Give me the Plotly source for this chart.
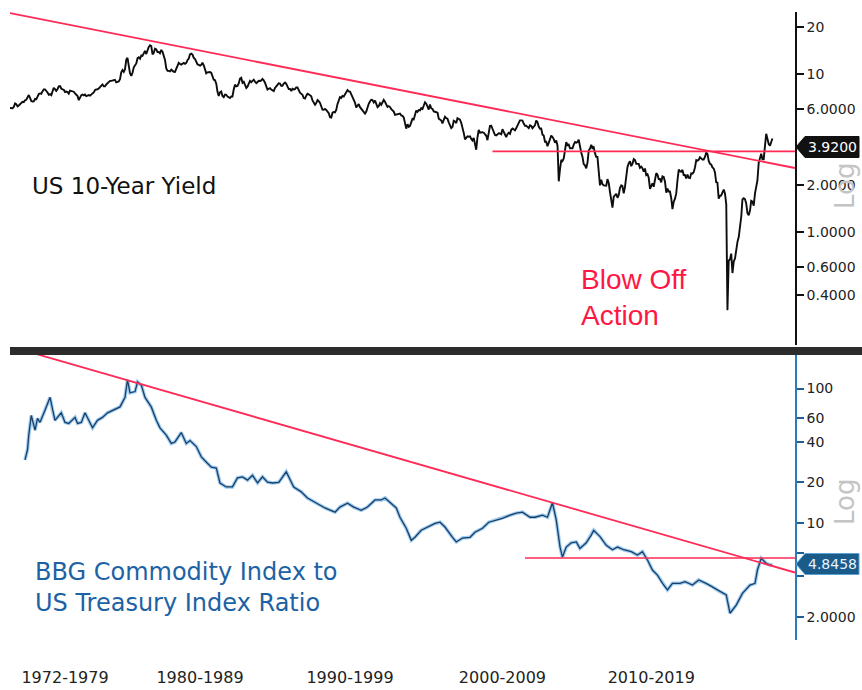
import pandas as pd
import plotly.graph_objects as go

W, H = 862, 690

# ---------------- data ----------------
# US 10-year Treasury yield, monthly, May 1972 - Mar 2023 (percent)
yield_pct = [
    6.13, 6.11, 6.11, 6.21, 6.55, 6.48, 6.28, 6.36,                          # 1972 (May-Dec)
    6.46, 6.64, 6.71, 6.67, 6.85, 6.90, 7.13, 7.40, 7.09, 6.79, 6.73, 6.74,  # 1973
    6.99, 6.96, 7.21, 7.51, 7.58, 7.54, 7.81, 8.04, 8.04, 7.90, 7.68, 7.43,  # 1974
    7.50, 7.39, 7.73, 8.23, 8.06, 7.86, 8.06, 8.40, 8.43, 8.14, 8.05, 8.00,  # 1975
    7.74, 7.79, 7.73, 7.56, 7.90, 7.86, 7.83, 7.77, 7.59, 7.41, 7.29, 6.87,  # 1976
    7.21, 7.39, 7.46, 7.37, 7.46, 7.28, 7.33, 7.40, 7.34, 7.52, 7.58, 7.69,  # 1977
    7.96, 8.03, 8.04, 8.15, 8.35, 8.46, 8.64, 8.41, 8.42, 8.64, 8.81, 9.01,  # 1978
    9.10, 9.10, 9.12, 9.18, 9.25, 8.91, 8.95, 9.03, 9.33, 10.30, 10.65, 10.39,  # 1979
    10.80, 12.41, 12.75, 11.47, 10.18, 9.78, 10.25, 11.10, 11.51, 11.75, 12.68, 12.84,  # 1980
    12.57, 13.19, 13.12, 13.68, 14.10, 13.47, 14.28, 14.94, 15.32, 15.15, 13.39, 13.72,  # 1981
    14.59, 14.43, 13.86, 13.87, 13.62, 14.30, 13.95, 13.06, 12.34, 10.91, 10.55, 10.54,  # 1982
    10.46, 10.72, 10.51, 10.40, 10.38, 10.85, 11.38, 11.85, 11.65, 11.54, 11.69, 11.83,  # 1983
    11.67, 11.84, 12.32, 12.63, 13.41, 13.56, 13.36, 12.72, 12.52, 12.16, 11.57, 11.50,  # 1984
    11.38, 11.51, 11.86, 11.43, 10.85, 10.16, 10.31, 10.33, 10.37, 10.24, 9.78, 9.26,  # 1985
    9.19, 8.70, 7.78, 7.30, 7.71, 7.80, 7.30, 7.17, 7.45, 7.43, 7.25, 7.11,  # 1986
    7.08, 7.25, 7.25, 8.02, 8.61, 8.40, 8.45, 8.76, 9.42, 9.52, 8.86, 8.99,  # 1987
    8.67, 8.21, 8.37, 8.72, 9.09, 8.92, 9.06, 9.26, 8.98, 8.80, 8.96, 9.11,  # 1988
    9.09, 9.17, 9.36, 9.18, 8.86, 8.28, 8.02, 8.11, 8.19, 8.01, 7.87, 7.84,  # 1989
    8.21, 8.47, 8.59, 8.79, 8.76, 8.48, 8.47, 8.75, 8.89, 8.72, 8.39, 8.08,  # 1990
    8.09, 7.85, 8.11, 8.04, 8.07, 8.28, 8.27, 7.90, 7.65, 7.53, 7.42, 7.09,  # 1991
    7.03, 7.34, 7.54, 7.48, 7.39, 7.26, 6.84, 6.59, 6.42, 6.59, 6.87, 6.77,  # 1992
    6.60, 6.26, 5.98, 5.97, 6.04, 5.96, 5.81, 5.68, 5.36, 5.33, 5.72, 5.77,  # 1993
    5.75, 5.97, 6.48, 6.97, 7.18, 7.10, 7.30, 7.24, 7.46, 7.74, 7.96, 7.81,  # 1994
    7.78, 7.47, 7.20, 7.06, 6.63, 6.17, 6.28, 6.49, 6.20, 6.04, 5.93, 5.71,  # 1995
    5.65, 5.81, 6.27, 6.51, 6.74, 6.91, 6.87, 6.64, 6.83, 6.53, 6.20, 6.30,  # 1996
    6.58, 6.42, 6.69, 6.89, 6.71, 6.49, 6.22, 6.30, 6.21, 6.03, 5.88, 5.81,  # 1997
    5.54, 5.57, 5.65, 5.64, 5.65, 5.50, 5.46, 5.34, 4.81, 4.53, 4.83, 4.65,  # 1998
    4.72, 5.00, 5.23, 5.18, 5.54, 5.90, 5.79, 5.94, 5.92, 6.11, 6.03, 6.28,  # 1999
    6.66, 6.52, 6.26, 5.99, 6.44, 6.10, 6.05, 5.83, 5.80, 5.74, 5.72, 5.24,  # 2000
    5.16, 5.10, 4.89, 5.14, 5.39, 5.28, 5.24, 4.97, 4.73, 4.57, 4.65, 5.09,  # 2001
    5.04, 4.91, 5.28, 5.21, 5.16, 4.93, 4.65, 4.26, 3.87, 3.94, 4.05, 4.03,  # 2002
    4.05, 3.90, 3.81, 3.96, 3.57, 3.33, 3.98, 4.45, 4.27, 4.29, 4.30, 4.27,  # 2003
    4.15, 4.08, 3.83, 4.35, 4.72, 4.73, 4.50, 4.28, 4.13, 4.10, 4.19, 4.23,  # 2004
    4.22, 4.17, 4.50, 4.34, 4.14, 4.00, 4.18, 4.26, 4.20, 4.46, 4.54, 4.47,  # 2005
    4.42, 4.57, 4.72, 4.99, 5.11, 5.11, 5.09, 4.88, 4.72, 4.73, 4.60, 4.56,  # 2006
    4.76, 4.72, 4.56, 4.69, 4.75, 5.10, 5.00, 4.67, 4.52, 4.53, 4.15, 4.10,  # 2007
    3.74, 3.74, 3.51, 3.68, 3.88, 4.10, 4.01, 3.89, 3.69, 3.81, 3.53, 2.10,  # 2008
    2.52, 2.87, 2.82, 2.93, 3.29, 3.72, 3.56, 3.59, 3.40, 3.39, 3.40, 3.59,  # 2009
    3.73, 3.69, 3.73, 3.85, 3.42, 3.20, 3.01, 2.70, 2.65, 2.54, 2.76, 3.29,  # 2010
    3.39, 3.58, 3.41, 3.46, 3.17, 3.00, 3.00, 2.30, 1.98, 2.15, 2.01, 1.98,  # 2011
    1.97, 1.97, 2.17, 2.05, 1.80, 1.62, 1.43, 1.68, 1.72, 1.75, 1.65, 1.72,  # 2012
    1.91, 1.98, 1.96, 1.76, 1.93, 2.30, 2.58, 2.74, 2.81, 2.62, 2.72, 2.90,  # 2013
    2.86, 2.71, 2.72, 2.71, 2.56, 2.60, 2.54, 2.42, 2.53, 2.30, 2.33, 2.21,  # 2014
    1.88, 1.98, 2.04, 1.94, 2.20, 2.36, 2.32, 2.17, 2.17, 2.07, 2.26, 2.24,  # 2015
    2.09, 1.78, 1.89, 1.81, 1.81, 1.64, 1.40, 1.56, 1.63, 1.76, 2.14, 2.49,  # 2016
    2.43, 2.42, 2.48, 2.30, 2.30, 2.19, 2.32, 2.21, 2.20, 2.36, 2.35, 2.40,  # 2017
    2.58, 2.86, 2.84, 2.87, 2.98, 2.91, 2.89, 2.89, 3.00, 3.20, 3.12, 2.83,  # 2018
    2.71, 2.68, 2.57, 2.53, 2.40, 2.07, 2.06, 1.63, 1.70, 1.71, 1.81, 1.86,  # 2019
    1.76, 1.50, 0.32, 0.66, 0.67, 0.73, 0.55, 0.65, 0.68, 0.79, 0.87, 0.93,  # 2020
    1.08, 1.26, 1.61, 1.64, 1.62, 1.52, 1.32, 1.28, 1.37, 1.58, 1.56, 1.47,  # 2021
    1.76, 1.93, 2.13, 2.75, 2.90, 3.14, 2.90, 2.90, 3.52, 4.20, 3.89, 3.62,  # 2022
    3.53, 3.75, 3.92,                                                        # 2023 (Jan-Mar)
]
yield_dates = pd.date_range("1972-05-01", periods=len(yield_pct), freq="MS")

# BBG Commodity Index / US Treasury Index ratio
ratio_dates = [
    "1973-05", "1973-07", "1973-08", "1973-10", "1974-01", "1974-03", "1974-05", "1974-07",
    "1974-09", "1975-01", "1975-03", "1975-05", "1975-10", "1976-01", "1976-04", "1976-09",
    "1976-11", "1977-02", "1977-05", "1977-09", "1977-11", "1978-03", "1978-07", "1978-11",
    "1979-03", "1979-09", "1980-01", "1980-03", "1980-05", "1980-09", "1980-11", "1981-02",
    "1981-05", "1981-10", "1982-02", "1982-05", "1982-10", "1983-02", "1983-05", "1983-10",
    "1984-02", "1984-05", "1984-10", "1985-02", "1985-05", "1985-10", "1986-02", "1986-05",
    "1986-10", "1987-03", "1987-07", "1987-11", "1988-03", "1988-07", "1988-11", "1989-03",
    "1989-07", "1989-11", "1990-04", "1990-10", "1991-04", "1991-10", "1992-03", "1992-09",
    "1993-01", "1993-05", "1994-01", "1994-05", "1994-11", "1995-04", "1995-10", "1996-03",
    "1996-09", "1997-02", "1997-05", "1997-10", "1998-02", "1998-05", "1998-10", "1999-02",
    "1999-05", "1999-10", "2000-03", "2000-09", "2001-01", "2001-05", "2001-11", "2002-02",
    "2002-07", "2003-01", "2003-05", "2003-11", "2004-04", "2004-10", "2005-03", "2005-09",
    "2006-02", "2006-07", "2007-01", "2007-05", "2007-11", "2008-03", "2008-07", "2008-10",
    "2009-01", "2009-03", "2009-06", "2009-10", "2010-02", "2010-05", "2010-10", "2011-02",
    "2011-04", "2011-09", "2012-02", "2012-07", "2012-11", "2013-04", "2013-10", "2014-03",
    "2014-07", "2014-11", "2015-03", "2015-07", "2015-11", "2016-03", "2016-07", "2017-01",
    "2017-05", "2017-11", "2018-04", "2018-10", "2019-03", "2019-09", "2020-02", "2020-05",
    "2020-10", "2021-03", "2021-09", "2022-01", "2022-03", "2022-06", "2022-10", "2023-01",
    "2023-03",
]
ratio_vals = [
    29.4, 35, 45, 63, 49, 60, 56, 63,
    69, 86, 69, 58, 66, 56, 55, 61,
    55, 56, 66, 56, 51, 58, 61, 66,
    69, 73, 86, 116, 93, 95, 112, 106,
    86, 73, 58, 51, 45, 39, 40, 47,
    39, 41, 37, 31, 29, 26, 25.6, 19.8,
    18.5, 18.5, 21.6, 22, 20.8, 22.6, 19.8, 22,
    20.1, 19.8, 20, 24, 18.5, 17, 15.3, 14.3,
    13.6, 12.9, 12.0, 13.1, 14, 13.1, 12.4, 13.1,
    14.8, 14.8, 15.3, 14, 12.9, 11.0, 9.1, 7.4,
    7.8, 8.8, 9.3, 9.9, 10.1, 9.3, 7.8, 7.2,
    7.7, 7.8, 8.5, 9.1, 10.1, 10.5, 10.8, 11.4,
    11.8, 12.0, 11.0, 11.0, 11.4, 11.0, 14.1, 10.5,
    6.6, 5.56, 6.6, 7.1, 7.2, 6.45, 7.1, 8.1,
    8.8, 7.9, 6.8, 6.3, 6.6, 6.3, 6.1, 5.75,
    6.1, 5.28, 4.45, 4.08, 3.54, 3.16, 3.54, 3.54,
    3.64, 3.44, 3.75, 3.54, 3.34, 3.07, 2.90, 2.12,
    2.44, 2.98, 3.44, 3.54, 4.45, 5.44, 4.99, 4.86,
    4.8458,
]

# trend / support lines (end points)
yield_trend_dates = ["1972-05-01", "2024-09-01"]
yield_trend_vals = [24.5, 2.55]
yield_level_dates = ["2004-07-01", "2024-09-01"]
yield_level_vals = [3.25, 3.25]
ratio_trend_dates = ["1972-05-01", "2024-09-01"]
ratio_trend_vals = [206, 4.26]
ratio_level_dates = ["2006-09-01", "2024-09-01"]
ratio_level_vals = [5.47, 5.47]

# axis ticks (6 and 4 on the lower scale sit under the last-value tag)
top_tickvals = [20, 10, 6, 2, 1, 0.6, 0.4]
top_ticktext = ["20", "10", "6.0000", "2.0000", "1.0000", "0.6000", "0.4000"]
bot_tickvals = [100, 60, 40, 20, 10, 6, 4, 2]
bot_ticktext = ["100", "60", "40", "20", "10", "", "", "2.0000"]
decade_pos = ["1976-01-01", "1985-01-01", "1995-01-01", "2005-03-01", "2015-02-01"]
decade_text = ["1972-1979", "1980-1989", "1990-1999", "2000-2009", "2010-2019"]

last_yield_label = "3.9200"
last_ratio_label = "4.8458"

# ---------------- styling ----------------
RED = "#ff2a55"
BLUE_TXT = "#1d62a4"
TICK_FONT = dict(family="DejaVu Sans", size=14, color="#222222")


def px_x(p):
    return p / W


def px_y(p):
    return 1 - p / H


x_range = ["1972-05-01", "2024-09-01"]
x_dom = [px_x(10), px_x(795)]

fig = go.Figure()

# top panel
fig.add_trace(go.Scatter(x=yield_dates, y=yield_pct, mode="lines",
                         line=dict(color="#0d0d0d", width=1.9),
                         xaxis="x", yaxis="y", showlegend=False))
fig.add_trace(go.Scatter(x=yield_trend_dates, y=yield_trend_vals, mode="lines",
                         line=dict(color=RED, width=1.8),
                         xaxis="x", yaxis="y", showlegend=False))
fig.add_trace(go.Scatter(x=yield_level_dates, y=yield_level_vals, mode="lines",
                         line=dict(color=RED, width=1.6),
                         xaxis="x", yaxis="y", showlegend=False))

# bottom panel
fig.add_trace(go.Scatter(x=ratio_dates, y=ratio_vals, mode="lines",
                         line=dict(color="rgba(80,160,225,0.55)", width=3.6),
                         xaxis="x2", yaxis="y2", showlegend=False))
fig.add_trace(go.Scatter(x=ratio_dates, y=ratio_vals, mode="lines",
                         line=dict(color="#173f68", width=1.3),
                         xaxis="x2", yaxis="y2", showlegend=False))
fig.add_trace(go.Scatter(x=ratio_trend_dates, y=ratio_trend_vals, mode="lines",
                         line=dict(color=RED, width=1.8),
                         xaxis="x2", yaxis="y2", showlegend=False))
fig.add_trace(go.Scatter(x=ratio_level_dates, y=ratio_level_vals, mode="lines",
                         line=dict(color=RED, width=1.6),
                         xaxis="x2", yaxis="y2", showlegend=False))

shapes = [
    # divider bar between the two panels
    dict(type="rect", xref="paper", yref="paper",
         x0=px_x(10), x1=1.0, y0=px_y(355), y1=px_y(347),
         fillcolor="#2c2c2c", line=dict(width=0), layer="above"),
]


def value_tag(yc, fill, border):
    h = 10.5
    tip, left, right = px_x(796), px_x(805), px_x(859)
    path = (f"M {tip},{px_y(yc)} L {left},{px_y(yc - h)} L {right},{px_y(yc - h)} "
            f"L {right},{px_y(yc + h)} L {left},{px_y(yc + h)} Z")
    return dict(type="path", xref="paper", yref="paper", path=path,
                fillcolor=fill, line=dict(color=border, width=1), layer="above")


shapes.append(value_tag(147, "#111111", "#111111"))
shapes.append(value_tag(564, "#1b5b8a", "#5aa2d6"))

annotations = [
    dict(text="US 10-Year Yield", x=px_x(30), y=px_y(186), xref="paper", yref="paper",
         xanchor="left", yanchor="middle", showarrow=False,
         font=dict(family="DejaVu Sans", size=23, color="#111111")),
    dict(text="Blow Off", x=px_x(579), y=px_y(279), xref="paper", yref="paper",
         xanchor="left", yanchor="middle", showarrow=False,
         font=dict(family="Liberation Sans", size=28, color="#ff1744")),
    dict(text="Action", x=px_x(579), y=px_y(316), xref="paper", yref="paper",
         xanchor="left", yanchor="middle", showarrow=False,
         font=dict(family="Liberation Sans", size=28, color="#ff1744")),
    dict(text="BBG Commodity Index to", x=px_x(33), y=px_y(572), xref="paper", yref="paper",
         xanchor="left", yanchor="middle", showarrow=False,
         font=dict(family="DejaVu Sans", size=24, color=BLUE_TXT)),
    dict(text="US Treasury Index Ratio", x=px_x(33), y=px_y(603), xref="paper", yref="paper",
         xanchor="left", yanchor="middle", showarrow=False,
         font=dict(family="DejaVu Sans", size=24, color=BLUE_TXT)),
    dict(text="Log", x=px_x(845), y=px_y(186), xref="paper", yref="paper",
         xanchor="center", yanchor="middle", showarrow=False, textangle=-90,
         font=dict(family="DejaVu Sans", size=26, color="#c4c4c4")),
    dict(text="Log", x=px_x(845), y=px_y(502), xref="paper", yref="paper",
         xanchor="center", yanchor="middle", showarrow=False, textangle=-90,
         font=dict(family="DejaVu Sans", size=26, color="#c4c4c4")),
    dict(text=last_yield_label, x=px_x(832), y=px_y(147), xref="paper", yref="paper",
         xanchor="center", yanchor="middle", showarrow=False,
         font=dict(family="DejaVu Sans", size=14, color="#ffffff")),
    dict(text=last_ratio_label, x=px_x(832), y=px_y(564), xref="paper", yref="paper",
         xanchor="center", yanchor="middle", showarrow=False,
         font=dict(family="DejaVu Sans", size=14, color="#e8f3ff")),
]

fig.update_layout(
    width=W, height=H, autosize=False,
    margin=dict(l=0, r=0, t=0, b=0, pad=0),
    paper_bgcolor="white", plot_bgcolor="white",
    showlegend=False,
    xaxis=dict(type="date", range=x_range, domain=x_dom, anchor="y",
               showticklabels=False, showgrid=False, zeroline=False, showline=False,
               ticks=""),
    yaxis=dict(type="log", range=[-0.716, 1.396], domain=[px_y(345), px_y(12)],
               anchor="x", side="right", showgrid=False, zeroline=False,
               showline=True, linecolor="#111111", linewidth=1.5,
               ticks="outside", ticklen=7, tickwidth=2, tickcolor="#111111",
               tickvals=top_tickvals, ticktext=top_ticktext, tickfont=TICK_FONT),
    xaxis2=dict(type="date", range=x_range, domain=x_dom, anchor="y2",
                showgrid=False, zeroline=False, showline=False, ticks="",
                tickvals=decade_pos, ticktext=decade_text, ticklabelstandoff=26,
                tickfont=dict(family="DejaVu Sans", size=16, color="#222222")),
    yaxis2=dict(type="log", range=[0.127, 2.250], domain=[px_y(640), px_y(355)],
                anchor="x2", side="right", showgrid=False, zeroline=False,
                showline=True, linecolor="#2b7bbd", linewidth=1.5,
                ticks="outside", ticklen=7, tickwidth=2, tickcolor="#1f5f95",
                tickvals=bot_tickvals, ticktext=bot_ticktext, tickfont=TICK_FONT),
    shapes=shapes,
    annotations=annotations,
)

fig.write_html("out.html")
